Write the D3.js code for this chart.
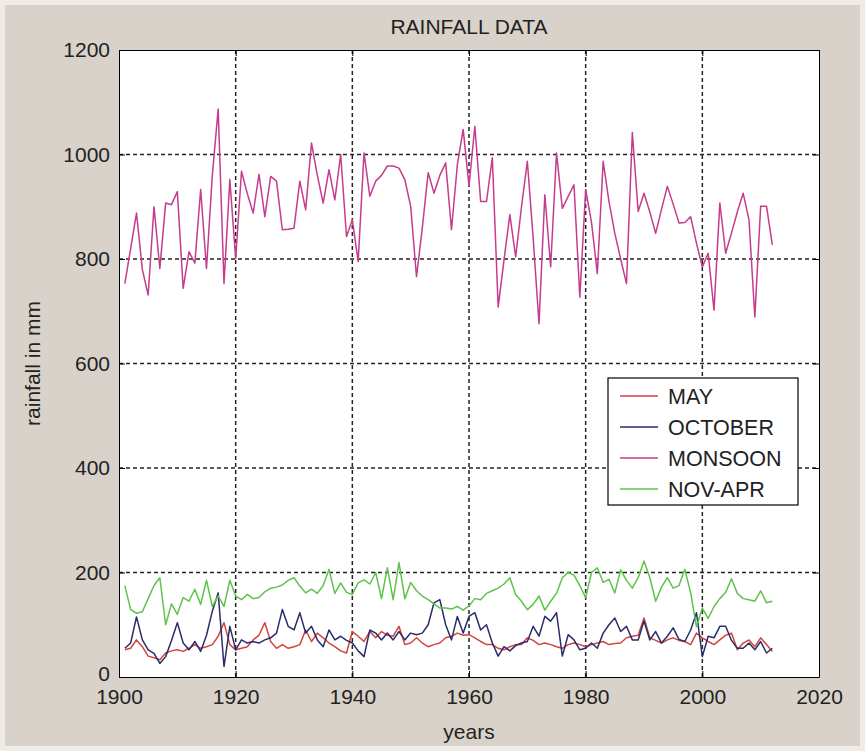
<!DOCTYPE html>
<html lang="en">
<head>
  <meta charset="UTF-8">
  <title>Rainfall Data</title>
  <script src="https://cdn.jsdelivr.net/npm/d3@7"></script>
  <style>
    body { margin: 0; background: #d6cfc7; }
    svg text { font-family: "Liberation Sans", Arial, sans-serif; fill: #222; }
    .tick text { font-size: 21px; }
    .domain { stroke: #000; }
  </style>
</head>
<body>
  <div id="chart"></div>

  <script>
    // Years of record
    const years = d3.range(1901, 2013);

    // Rainfall (mm), 1901..2012
    const monsoon = [
      753, 820, 888, 780, 731, 900, 782, 907, 904, 929,
      744, 814, 792, 933, 782, 960, 1087, 753, 952, 801,
      968, 925, 888, 962, 881, 958, 949, 856, 857, 859,
      949, 894, 1022, 960, 907, 971, 913, 1000, 843, 875,
      795, 1003, 920, 949, 960, 978, 978, 974, 952, 901,
      766, 860, 965, 926, 960, 984, 856, 980, 1048, 940,
      1054, 910, 910, 994, 708, 798, 885, 804, 900, 987,
      840, 676, 923, 785, 1003, 897, 920, 942, 727, 933,
      870, 772, 987, 910, 849, 800, 753, 1042, 891, 926,
      890, 849, 895, 939, 905, 869, 870, 881, 830, 785,
      811, 702, 907, 811, 850, 890, 926, 875, 689, 901,
      901, 827
    ];

    const novApr = [
      175, 129, 122, 125, 150, 175, 190, 100, 140, 120,
      152, 145, 168, 139, 185, 135, 155, 135, 185, 155,
      148, 158, 150, 152, 163, 170, 172, 176, 185, 190,
      174, 161, 168, 160, 175, 206, 160, 180, 162, 158,
      180, 186, 178, 200, 150, 209, 148, 219, 150, 181,
      165, 155, 148, 140, 132, 132, 130, 135, 128, 136,
      150, 148, 160, 165, 170, 178, 190, 158, 145, 129,
      139, 155, 128, 145, 160, 190, 200, 195, 175, 152,
      200, 209, 181, 187, 161, 205, 185, 170, 190, 222,
      190, 145, 172, 190, 170, 175, 206, 161, 96, 132,
      112, 135, 150, 162, 188, 160, 150, 148, 145, 165,
      142, 145
    ];

    const october = [
      55, 65, 115, 71, 52, 45, 26, 39, 70, 104,
      65, 52, 68, 49, 80, 126, 161, 20, 97, 52,
      71, 65, 68, 65, 71, 75, 84, 129, 97, 90,
      123, 84, 97, 71, 58, 90, 71, 78, 70, 65,
      50, 39, 90, 84, 71, 84, 71, 87, 71, 84,
      81, 84, 100, 142, 148, 100, 71, 116, 84, 116,
      123, 90, 100, 65, 40, 58, 50, 60, 65, 68,
      97, 78, 116, 107, 123, 40, 81, 71, 52, 55,
      65, 55, 84, 100, 113, 87, 97, 71, 71, 107,
      71, 87, 65, 78, 94, 72, 68, 90, 123, 39,
      78, 75, 97, 97, 70, 55, 55, 65, 52, 68,
      46, 55
    ];

    const may = [
      52, 55, 71, 58, 40, 37, 33, 46, 50, 52,
      49, 55, 62, 55, 58, 62, 78, 104, 62, 52,
      55, 58, 71, 80, 104, 68, 55, 62, 55, 58,
      62, 90, 68, 84, 75, 65, 58, 50, 46, 87,
      78, 68, 87, 75, 87, 80, 78, 97, 62, 65,
      75, 65, 58, 62, 65, 75, 78, 84, 80, 81,
      75, 68, 62, 62, 55, 52, 58, 62, 62, 75,
      70, 62, 65, 62, 58, 55, 62, 65, 62, 58,
      62, 65, 68, 62, 64, 65, 75, 78, 80, 113,
      75, 70, 65, 71, 75, 70, 68, 62, 84, 75,
      68, 62, 71, 80, 84, 52, 65, 71, 58, 75,
      62, 49
    ];

    const seriesNames = ['MAY', 'OCTOBER', 'MONSOON', 'NOV-APR'];
    const seriesValues = [may, october, monsoon, novApr];
    const seriesColors = ['#d2453a', '#2a2c6c', '#c63c8c', '#5ec24c'];

    const xTicks = [1900, 1920, 1940, 1960, 1980, 2000, 2020];
    const yTicks = [0, 200, 400, 600, 800, 1000, 1200];

    const width = 865, height = 751;
    const margin = { top: 50, right: 46, bottom: 74, left: 119 };

    const svg = d3.select('#chart')
      .append('svg')
        .attr('width', width)
        .attr('height', height);

    // figure background with a light outer rim
    svg.append('rect')
      .attr('x', 2).attr('y', 2)
      .attr('width', width - 4).attr('height', height - 4)
      .attr('fill', '#d9d2ca')
      .attr('stroke', '#efece8')
      .attr('stroke-width', 6);

    const x = d3.scaleLinear()
      .domain([1900, 2020])
      .range([margin.left, width - margin.right]);

    const y = d3.scaleLinear()
      .domain([0, 1200])
      .range([height - margin.bottom, margin.top]);

    // plot area
    svg.append('rect')
      .attr('x', x(1900)).attr('y', y(1200))
      .attr('width', x(2020) - x(1900))
      .attr('height', y(0) - y(1200))
      .attr('fill', '#fff');

    // dashed grid
    const grid = svg.append('g')
      .attr('stroke', '#222')
      .attr('stroke-width', 1.5)
      .attr('stroke-dasharray', '4,3');

    grid.selectAll('line.gx')
      .data(xTicks.slice(1, -1))
      .enter().append('line')
        .attr('x1', d => x(d)).attr('x2', d => x(d))
        .attr('y1', y(0)).attr('y2', y(1200));

    grid.selectAll('line.gy')
      .data(yTicks.slice(1, -1))
      .enter().append('line')
        .attr('x1', x(1900)).attr('x2', x(2020))
        .attr('y1', d => y(d)).attr('y2', d => y(d));

    // series lines
    const line = d3.line()
      .x((d, i) => x(years[i]))
      .y(d => y(d));

    svg.append('g')
      .selectAll('path')
      .data(seriesValues)
      .enter().append('path')
        .attr('d', line)
        .attr('fill', 'none')
        .attr('stroke', (d, i) => seriesColors[i])
        .attr('stroke-width', 1.5)
        .attr('stroke-linejoin', 'round');

    // axes, ticks pointing inward
    const xAxis = svg.append('g')
      .attr('transform', `translate(0,${y(0)})`)
      .call(d3.axisBottom(x).tickValues(xTicks).tickFormat(d3.format('d'))
        .tickSize(-6).tickSizeOuter(0).tickPadding(15));

    svg.append('g')
      .attr('transform', `translate(0,${y(1200)})`)
      .call(d3.axisTop(x).tickValues(xTicks).tickFormat('')
        .tickSize(-6).tickSizeOuter(0));

    const yAxis = svg.append('g')
      .attr('transform', `translate(${x(1900)},0)`)
      .call(d3.axisLeft(y).tickValues(yTicks).tickFormat(d3.format('d'))
        .tickSize(-6).tickSizeOuter(0).tickPadding(9));

    svg.append('g')
      .attr('transform', `translate(${x(2020)},0)`)
      .call(d3.axisRight(y).tickValues(yTicks).tickFormat('')
        .tickSize(-6).tickSizeOuter(0));

    svg.selectAll('.tick line').attr('stroke', '#000');
    xAxis.selectAll('.tick text').attr('dy', '0.55em');
    // lift the "0" a touch so it clears the "1900" below it
    yAxis.selectAll('.tick text').filter(d => d === 0).attr('dy', '0.18em');

    // titles
    svg.append('text')
      .attr('x', (x(1900) + x(2020)) / 2)
      .attr('y', 34)
      .attr('text-anchor', 'middle')
      .style('font-size', '21px')
      .text('RAINFALL DATA');

    svg.append('text')
      .attr('x', (x(1900) + x(2020)) / 2)
      .attr('y', 739)
      .attr('text-anchor', 'middle')
      .style('font-size', '21px')
      .text('years');

    svg.append('text')
      .attr('transform', `translate(40,${(y(0) + y(1200)) / 2}) rotate(-90)`)
      .attr('text-anchor', 'middle')
      .style('font-size', '21px')
      .text('rainfall in mm');

    // legend
    const legend = svg.append('g')
      .attr('transform', 'translate(608,378)');

    legend.append('rect')
      .attr('width', 190).attr('height', 127)
      .attr('fill', '#fff')
      .attr('stroke', '#000')
      .attr('stroke-width', 1.2);

    const rows = legend.selectAll('g.row')
      .data(seriesNames)
      .enter().append('g')
        .attr('transform', (d, i) => `translate(0,${18 + i * 31})`);

    rows.append('line')
      .attr('x1', 12).attr('x2', 50)
      .attr('stroke', (d, i) => seriesColors[i])
      .attr('stroke-width', 1.6);

    rows.append('text')
      .attr('x', 60)
      .attr('dy', '0.36em')
      .style('font-size', '21.5px')
      .text(d => d);
  </script>
</body>
</html>
